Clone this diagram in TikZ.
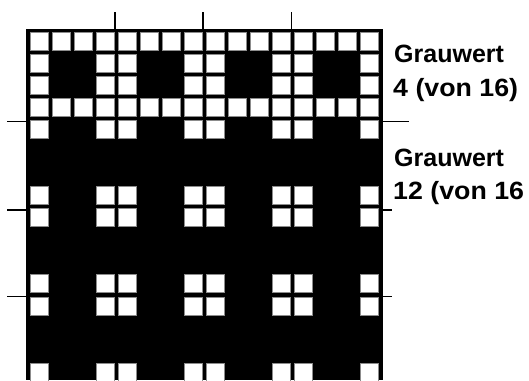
\documentclass[tikz,border=0pt]{standalone}
\usepackage{fontspec}
\setmainfont{Liberation Sans}
\begin{document}
\begin{tikzpicture}[x=1pt,y=-1pt,
  cellbox/.style={fill=white,draw=black!45,line width=0.6pt},
  tick/.style={line width=1.5pt,black},
  label/.style={anchor=base west,inner sep=0pt,font=\fontsize{25}{30}\selectfont\bfseries},
  numlabel/.style={label,xscale=1.07}]
\useasboundingbox (0,0) rectangle (529,380);
% grid background
\fill[black] (26,29) rectangle (383,380);
% white cells
\foreach \r in {0,...,15}{
  \foreach \c in {0,...,15}{
    \pgfmathtruncatemacro{\rmod}{mod(\r,4)}
    \pgfmathtruncatemacro{\cmod}{mod(\c,4)}
    \pgfmathtruncatemacro{\er}{(\rmod==0)||(\rmod==3)}
    \pgfmathtruncatemacro{\ec}{(\cmod==0)||(\cmod==3)}
    \pgfmathtruncatemacro{\iswhite}{\r<4 ? (\er||\ec) : (\er&&\ec)}
    \pgfmathsetmacro{\xx}{30+22*\c}
    \pgfmathsetmacro{\yy}{32+22.07*\r}
    \ifnum\iswhite=1
      \draw[cellbox] (\xx,\yy) rectangle ++(18,18);
    \fi
  }
}
% ticks top
\foreach \x in {115,203,291.5}{
  \draw[tick] (\x,12) -- (\x,29.5);
}
% ticks left
\foreach \y in {121.5,210,296.5}{
  \draw[tick] (7,\y) -- (26,\y);
}
% ticks right
\draw[tick] (383,121.5) -- (409,121.5);
\draw[tick] (383,210) -- (392,210);
\draw[tick] (383,296.5) -- (392,296.5);
% labels
\node[label] (g1) at (394,62) {Grauwert};
\node[numlabel] (v1) at (393,96) {4 (von 16)};
\node[label] (g2) at (394,166) {Grauwert};
\node[numlabel] (v2) at (393,199) {12 (von 16};
\end{tikzpicture}
\end{document}
